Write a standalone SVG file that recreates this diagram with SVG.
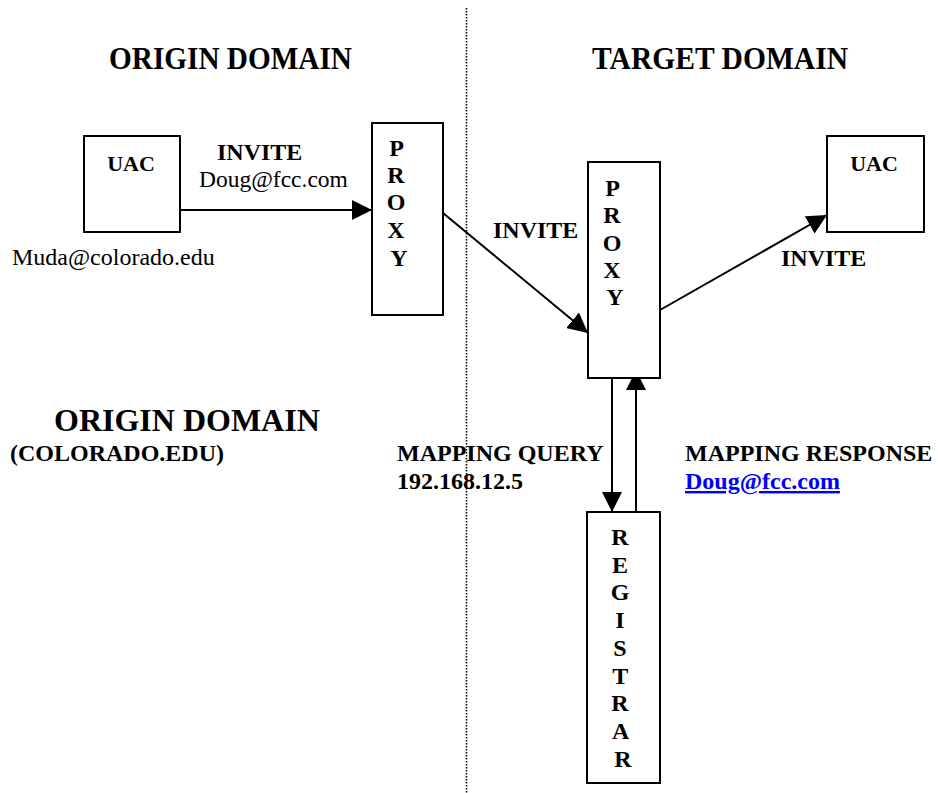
<svg xmlns="http://www.w3.org/2000/svg" width="938" height="793" viewBox="0 0 938 793">
  <style>
    .box { fill: #fff; stroke: #000; stroke-width: 2; }
    .b { font-family: "Liberation Serif", "Times New Roman", serif; font-weight: bold; fill: #000; }
    .r { font-family: "Liberation Serif", "Times New Roman", serif; fill: #000; }
    .wire { stroke: #000; stroke-width: 2; fill: none; marker-end: url(#head); }
    .lbl { font-size: 24px; }
    .stack { font-size: 24px; text-anchor: middle; }
  </style>
  <defs>
    <marker id="head" markerUnits="userSpaceOnUse" markerWidth="20" markerHeight="20" refX="20" refY="10" orient="auto" viewBox="0 0 20 20">
      <path d="M0,0 L20,10 L0,20 z" fill="#000"/>
    </marker>
  </defs>
  <rect width="938" height="793" fill="#fff"/>

  <!-- domain divider -->
  <line x1="466.5" y1="8" x2="466.5" y2="793" stroke="#000" stroke-width="1.5" stroke-dasharray="1.5 1.5"/>

  <!-- headings -->
  <text class="b" x="109" y="69" font-size="32" textLength="243" lengthAdjust="spacingAndGlyphs">ORIGIN DOMAIN</text>
  <text class="b" x="592" y="69" font-size="32" textLength="256" lengthAdjust="spacingAndGlyphs">TARGET DOMAIN</text>
  <text class="b" x="54" y="431" font-size="32">ORIGIN DOMAIN</text>
  <text class="b" x="10" y="461" font-size="24">(COLORADO.EDU)</text>

  <!-- connectors -->
  <g id="connectors">
    <line class="wire" x1="180" y1="210" x2="372" y2="210"/>
    <line class="wire" x1="443" y1="213" x2="588" y2="333"/>
    <line class="wire" x1="660" y1="310" x2="827" y2="215"/>
    <line class="wire" x1="612" y1="369" x2="612" y2="512"/>
    <line class="wire" x1="636" y1="512" x2="636" y2="370"/>
  </g>

  <!-- connector labels -->
  <g id="labels">
    <text class="b lbl" x="217" y="160">INVITE</text>
    <text class="r" x="199" y="187" font-size="23.5">Doug@fcc.com</text>
    <text class="b lbl" x="493" y="238">INVITE</text>
    <text class="b lbl" x="781" y="266">INVITE</text>
    <text class="b lbl" x="397" y="461">MAPPING QUERY</text>
    <text class="b lbl" x="397" y="489">192.168.12.5</text>
    <text class="b lbl" x="685" y="461">MAPPING RESPONSE</text>
    <text class="b lbl" x="685" y="489" style="fill:#0000ff" text-decoration="underline">Doug@fcc.com</text>
  </g>

  <!-- origin user agent -->
  <g id="uac-origin">
    <rect class="box" x="84" y="136" width="96" height="96"/>
    <text class="b" x="131" y="171" font-size="22" text-anchor="middle">UAC</text>
    <text class="r" x="12" y="265" font-size="24">Muda@colorado.edu</text>
  </g>

  <!-- origin proxy -->
  <g id="proxy-origin">
    <rect class="box" x="372" y="123" width="71" height="192"/>
    <text class="b stack">
      <tspan x="399" y="156">P</tspan>
      <tspan x="399" y="183">R</tspan>
      <tspan x="399" y="210">O</tspan>
      <tspan x="399" y="238">X</tspan>
      <tspan x="399" y="266">Y</tspan>
    </text>
  </g>

  <!-- target proxy -->
  <g id="proxy-target">
    <rect class="box" x="588" y="162" width="72" height="216"/>
    <text class="b stack">
      <tspan x="615" y="196">P</tspan>
      <tspan x="615" y="223">R</tspan>
      <tspan x="615" y="251">O</tspan>
      <tspan x="615" y="278">X</tspan>
      <tspan x="615" y="305">Y</tspan>
    </text>
  </g>

  <!-- target user agent -->
  <g id="uac-target">
    <rect class="box" x="827" y="136" width="97" height="96"/>
    <text class="b" x="874" y="171" font-size="22" text-anchor="middle">UAC</text>
  </g>

  <!-- registrar -->
  <g id="registrar">
    <rect class="box" x="587" y="512" width="73" height="271"/>
    <text class="b stack">
      <tspan x="623" y="545">R</tspan>
      <tspan x="623" y="573">E</tspan>
      <tspan x="623" y="600">G</tspan>
      <tspan x="623" y="628">I</tspan>
      <tspan x="623" y="656">S</tspan>
      <tspan x="623" y="684">T</tspan>
      <tspan x="623" y="711">R</tspan>
      <tspan x="623" y="739">A</tspan>
      <tspan x="623" y="767">R</tspan>
    </text>
  </g>
</svg>
